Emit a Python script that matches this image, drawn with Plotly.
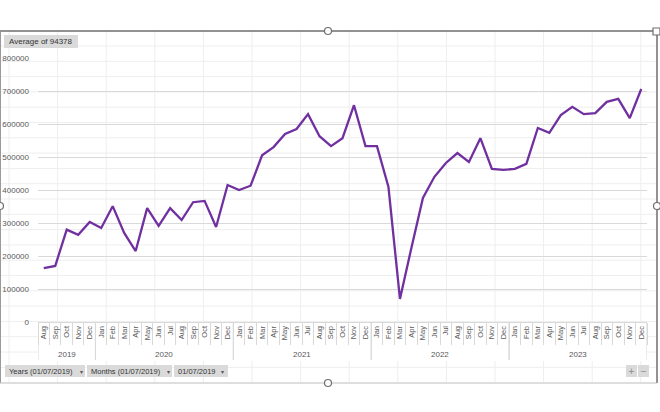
import plotly.graph_objects as go

years = ["2019"] * 5 + ["2020"] * 12 + ["2021"] * 12 + ["2022"] * 12 + ["2023"] * 12
months = ["Aug", "Sep", "Oct", "Nov", "Dec"] + [
    "Jan", "Feb", "Mar", "Apr", "May", "Jun", "Jul", "Aug", "Sep", "Oct", "Nov", "Dec"
] * 4
values = [
    163000, 170000, 280000, 264000, 303000,
    285000, 351000, 270000, 215000, 345000, 291000, 345000, 309000, 363000, 367000, 288000, 415000,
    400000, 413000, 505000, 530000, 570000, 585000, 630000, 563000, 533000, 557000, 657000, 533000,
    533000, 409000, 70000, 225000, 376000, 440000, 482000, 512000, 485000, 557000, 464000, 461000,
    464000, 479000, 588000, 573000, 627000, 652000, 630000, 633000, 667000, 676000, 618000, 706000,
]
y_ticks = [0, 100000, 200000, 300000, 400000, 500000, 600000, 700000, 800000]
avg_label = "Average of 94378"
filter_labels = ["Years (01/07/2019)", "Months (01/07/2019)", "01/07/2019"]

W, H = 660, 412
L, R, T, B = 38, 13, 58, 90
PW, PH = W - L - R, H - T - B


def xp(px):
    return (px - L) / PW


def yp(py):
    return (H - B - py) / PH


idx = list(range(len(values)))
n = len(values)

# year groups derived from the data
groups = []
for i, yv in enumerate(years):
    if not groups or groups[-1][0] != yv:
        groups.append([yv, i, i])
    else:
        groups[-1][2] = i

fig = go.Figure()
fig.add_trace(go.Scatter(
    x=idx, y=values, mode="lines",
    line=dict(color="#7030A0", width=2.3),
    hoverinfo="skip", showlegend=False,
))

shapes = []
# spreadsheet cell grid behind the chart (outside plot area)
gx = 9.0
while gx < 657:
    shapes.append(dict(type="line", xref="paper", yref="paper", x0=xp(gx), x1=xp(gx),
                       y0=yp(31), y1=yp(382), line=dict(color="#EEEEEE", width=1), layer="below"))
    gx += 48.6
gy = 46.0
while gy < 382:
    shapes.append(dict(type="line", xref="paper", yref="paper", x0=xp(0), x1=xp(657),
                       y0=yp(gy), y1=yp(gy), line=dict(color="#EEEEEE", width=1), layer="below"))
    gy += 15.3
# white backing for axis-label area
shapes.append(dict(type="rect", xref="paper", yref="paper", x0=0, x1=1, y0=yp(361), y1=0,
                   fillcolor="white", line=dict(width=0), layer="below"))
# year dividers
for g in groups:
    for b in (g[1] - 0.5, g[2] + 0.5):
        shapes.append(dict(type="line", xref="x", yref="paper", x0=b, x1=b, y0=0, y1=yp(360),
                           line=dict(color="#D9D9D9", width=1)))
# chart frame
frame_c = "#6E6E6E"
shapes.append(dict(type="line", xref="paper", yref="paper", x0=xp(0), x1=xp(657), y0=yp(31), y1=yp(31),
                   line=dict(color=frame_c, width=1.5)))
shapes.append(dict(type="line", xref="paper", yref="paper", x0=xp(657), x1=xp(657), y0=yp(31), y1=yp(383),
                   line=dict(color=frame_c, width=1.5)))
shapes.append(dict(type="line", xref="paper", yref="paper", x0=xp(0.5), x1=xp(0.5), y0=yp(31), y1=yp(383),
                   line=dict(color="#9A9A9A", width=1)))
shapes.append(dict(type="line", xref="paper", yref="paper", x0=xp(0), x1=xp(657), y0=yp(383), y1=yp(383),
                   line=dict(color="#BDBDBD", width=1)))
# handles
for cx, cy in [(328, 31), (657, 206), (0, 206), (328, 383)]:
    shapes.append(dict(type="circle", xref="paper", yref="paper",
                       x0=xp(cx - 3.5), x1=xp(cx + 3.5), y0=yp(cy + 3.5), y1=yp(cy - 3.5),
                       fillcolor="white", line=dict(color=frame_c, width=1.2)))
shapes.append(dict(type="rect", xref="paper", yref="paper",
                   x0=xp(653), x1=xp(660), y0=yp(35), y1=yp(28),
                   fillcolor="white", line=dict(color=frame_c, width=1.2)))
# buttons
btn_fill = "#DADADA"
shapes.append(dict(type="rect", xref="paper", yref="paper", x0=xp(4), x1=xp(78), y0=yp(48), y1=yp(35),
                   fillcolor=btn_fill, line=dict(width=0)))
for x0, x1 in [(5, 85), (87, 172), (174, 228), (626, 637), (638, 649)]:
    shapes.append(dict(type="rect", xref="paper", yref="paper", x0=xp(x0), x1=xp(x1), y0=yp(377), y1=yp(365),
                       fillcolor=btn_fill, line=dict(width=0)))

ann = []
font_txt = dict(family="Liberation Sans, Arial, sans-serif", size=7.5, color="#333333")
ann.append(dict(text=avg_label, x=xp(7), y=yp(41.5), xref="paper", yref="paper", xanchor="left",
                yanchor="middle", showarrow=False,
                font=dict(family="Liberation Sans, Arial, sans-serif", size=8, color="#333333")))
for label, x0, ax in zip(filter_labels, [7, 89, 176], [81, 168, 222]):
    ann.append(dict(text=label, x=xp(x0), y=yp(371), xref="paper", yref="paper", xanchor="left",
                    yanchor="middle", showarrow=False, font=font_txt))
    ann.append(dict(text="▾", x=xp(ax), y=yp(371), xref="paper", yref="paper", xanchor="center",
                    yanchor="middle", showarrow=False, font=dict(family="DejaVu Sans", size=6, color="#555555")))
for sym, cx in [("+", 631.5), ("−", 643.5)]:
    ann.append(dict(text=sym, x=xp(cx), y=yp(371), xref="paper", yref="paper", xanchor="center",
                    yanchor="middle", showarrow=False, font=dict(family="DejaVu Sans", size=8, color="#888888")))

axis_font = dict(family="Liberation Sans, Arial, sans-serif", size=8, color="#595959")
# year labels
for g in groups:
    ann.append(dict(text=g[0], x=(g[1] + g[2]) / 2, y=yp(354), xref="x", yref="paper",
                    xanchor="center", yanchor="middle", showarrow=False, font=axis_font))

fig.update_layout(
    width=W, height=H,
    margin=dict(l=L, r=R, t=T, b=B, pad=0),
    paper_bgcolor="white", plot_bgcolor="white",
    shapes=shapes, annotations=ann,
    xaxis=dict(
        range=[-0.5, n - 0.5], tickvals=idx, ticktext=months, tickangle=-90,
        tickfont=dict(family="Liberation Sans, Arial, sans-serif", size=7.5, color="#595959"),
        showgrid=False, showline=True, linecolor="#D9D9D9", linewidth=1,
        ticks="", zeroline=False, automargin=False,
        minor=dict(tickvals=[i - 0.5 for i in idx] + [n - 0.5], ticks="outside", ticklen=22,
                   tickcolor="#D9D9D9", showgrid=False),
        fixedrange=True,
    ),
    yaxis=dict(
        range=[0, 800000], tickvals=y_ticks, tickformat="d", tickfont=axis_font,
        showgrid=True, gridcolor="#D9D9D9", gridwidth=1, zeroline=False,
        ticks="", ticklabelstandoff=8, automargin=False, fixedrange=True,
    ),
)

fig.write_html("out.html", config={"displayModeBar": False},
               post_script="document.body.style.margin='0';document.body.style.overflow='hidden';")
